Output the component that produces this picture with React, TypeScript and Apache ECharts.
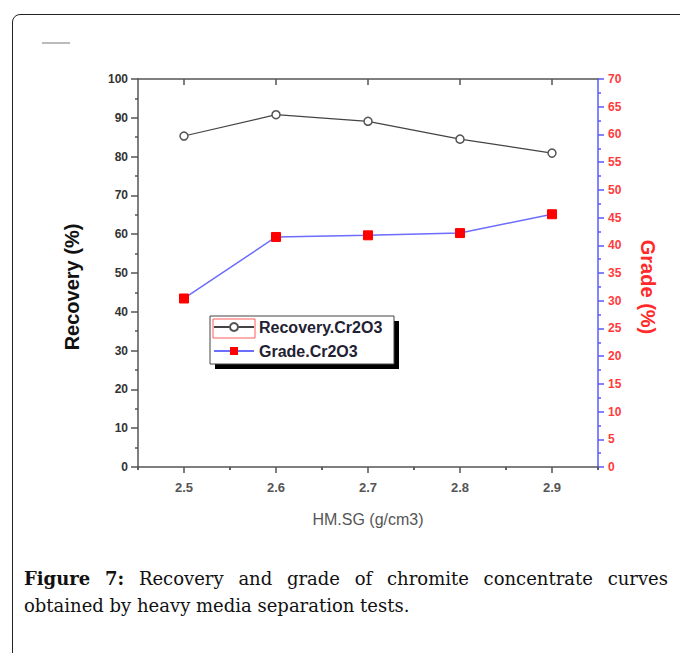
import React, { useEffect, useRef } from "react";
import * as echarts from "echarts";

const xValues = [2.5, 2.6, 2.7, 2.8, 2.9];
const recovery = [85.3, 90.8, 89.1, 84.5, 80.9];
const grade = [30.4, 41.5, 41.8, 42.2, 45.6];
const xMajorTicks = [2.5, 2.6, 2.7, 2.8, 2.9];
const xMinorTicks = [2.45, 2.55, 2.65, 2.75, 2.85, 2.95];
const seriesNames = ["Recovery.Cr2O3", "Grade.Cr2O3"];

const SANS = "'Liberation Sans', Arial, sans-serif";

export default function App() {
  const ref = useRef<HTMLDivElement>(null);
  useEffect(() => {
    document.body.style.margin = "0";
    const chart = echarts.init(ref.current!, null, { renderer: "svg" });
    const axisDark = "#555";
    const hiddenLabel = { show: false };
    const baseX = {
      type: "value",
      min: 2.45,
      max: 2.95,
      splitLine: { show: false },
    };
    chart.setOption({
      animation: false,
      backgroundColor: "transparent",
      grid: { left: 138, right: 82, top: 79, bottom: 73, containLabel: false },
      legend: {
        orient: "vertical",
        left: 213,
        top: 319,
        itemWidth: 40,
        itemHeight: 10,
        itemGap: 8,
        padding: 0,
        data: seriesNames,
        textStyle: { fontFamily: SANS, fontSize: 16, fontWeight: "bold", color: "#1f2233" },
      },
      graphic: [
        { type: "rect", z: 0, shape: { x: 215, y: 321, width: 184, height: 48 }, style: { fill: "#000" } },
        { type: "rect", z: 1, shape: { x: 210, y: 316, width: 184, height: 48 }, style: { fill: "#fff", stroke: "#444", lineWidth: 1 } },
        { type: "rect", z: 10, shape: { x: 213, y: 319, width: 42, height: 19 }, style: { fill: "none", stroke: "#ff5a5a", lineWidth: 1 } },
      ],
      xAxis: [
        {
          ...baseX,
          position: "bottom",
          name: "HM.SG (g/cm3)",
          nameLocation: "middle",
          nameGap: 44,
          nameTextStyle: { fontFamily: SANS, fontSize: 16, color: "#555" },
          axisLine: { show: true, onZero: false, lineStyle: { color: axisDark, width: 1.5 } },
          axisTick: { show: true, customValues: xMajorTicks, length: 6, inside: false, lineStyle: { color: axisDark, width: 1.5 } },
          axisLabel: {
            show: true,
            customValues: xMajorTicks,
            margin: 14,
            fontFamily: SANS,
            fontSize: 13,
            fontWeight: "bold",
            color: "#555",
            formatter: (v: number) => v.toFixed(1),
          },
        },
        {
          ...baseX,
          position: "bottom",
          axisLine: { show: false },
          axisTick: { show: true, customValues: xMinorTicks, length: 3, inside: false, lineStyle: { color: axisDark, width: 1.5 } },
          axisLabel: hiddenLabel,
        },
        {
          ...baseX,
          position: "top",
          axisLine: { show: true, onZero: false, lineStyle: { color: axisDark, width: 1.5 } },
          axisTick: { show: true, customValues: xMajorTicks, length: 6, inside: true, lineStyle: { color: axisDark, width: 1.5 } },
          axisLabel: hiddenLabel,
        },
        {
          ...baseX,
          position: "top",
          axisLine: { show: false },
          axisTick: { show: true, customValues: xMinorTicks, length: 3, inside: true, lineStyle: { color: axisDark, width: 1.5 } },
          axisLabel: hiddenLabel,
        },
      ],
      yAxis: [
        {
          type: "value",
          position: "left",
          min: 0,
          max: 100,
          interval: 10,
          name: "Recovery (%)",
          nameLocation: "middle",
          nameGap: 56,
          nameTextStyle: { fontFamily: SANS, fontSize: 20, fontWeight: "bold", color: "#111", padding: [0, 28, 0, 0] },
          splitLine: { show: false },
          axisLine: { show: true, onZero: false, lineStyle: { color: axisDark, width: 1.5 } },
          axisTick: { show: true, length: 7, lineStyle: { color: axisDark, width: 1.5 } },
          minorTick: { show: true, splitNumber: 2, length: 3, lineStyle: { color: axisDark, width: 1.5 } },
          axisLabel: { fontFamily: SANS, fontSize: 12, fontWeight: "bold", color: "#333", margin: 10 },
        },
        {
          type: "value",
          position: "right",
          min: 0,
          max: 70,
          interval: 5,
          name: "Grade (%)",
          nameLocation: "middle",
          nameRotate: -90,
          nameGap: 40,
          nameTextStyle: { fontFamily: SANS, fontSize: 20, fontWeight: "bold", color: "#ff2a2a", padding: [0, 0, 0, 28] },
          splitLine: { show: false },
          axisLine: { show: true, onZero: false, lineStyle: { color: "#5a5aff", width: 1.5 } },
          axisTick: { show: true, length: 6, lineStyle: { color: "#5a5aff", width: 1.5 } },
          minorTick: { show: true, splitNumber: 2, length: 3, lineStyle: { color: "#5a5aff", width: 1.5 } },
          axisLabel: { fontFamily: SANS, fontSize: 12, fontWeight: "bold", color: "#ff3b3b", margin: 10 },
        },
      ],
      series: [
        {
          name: seriesNames[0],
          type: "line",
          xAxisIndex: 0,
          yAxisIndex: 0,
          data: xValues.map((x, i) => [x, recovery[i]]),
          symbol: "circle",
          symbolSize: 8,
          lineStyle: { color: "#444", width: 1.2 },
          itemStyle: { color: "#fff", borderColor: "#555", borderWidth: 1.5 },
        },
        {
          name: seriesNames[1],
          type: "line",
          xAxisIndex: 0,
          yAxisIndex: 1,
          data: xValues.map((x, i) => [x, grade[i]]),
          symbol: "rect",
          symbolSize: 9,
          lineStyle: { color: "#6c6cff", width: 1.5 },
          itemStyle: { color: "#ff0000", borderColor: "#ff0000" },
        },
      ],
    });
    return () => chart.dispose();
  }, []);

  const captionStyle: React.CSSProperties = {
    position: "absolute",
    left: 24,
    width: 644,
    fontFamily: "'DejaVu Serif', 'Liberation Serif', serif",
    fontSize: 18,
    lineHeight: "27px",
    color: "#111",
    whiteSpace: "nowrap",
  };

  return (
    <div style={{ position: "absolute", left: 0, top: 0, width: 680, height: 653, overflow: "hidden", background: "#fff" }}>
      <div
        style={{
          position: "absolute",
          left: 12,
          top: 14,
          width: 720,
          height: 720,
          border: "1.5px solid #222",
          borderRadius: 8,
          boxSizing: "border-box",
        }}
      />
      <div style={{ position: "absolute", left: 42, top: 42, width: 28, height: 2, background: "#bbb" }} />
      <div ref={ref} style={{ position: "absolute", left: 0, top: 0, width: 680, height: 540 }} />
      <div style={{ ...captionStyle, top: 565, display: "flex", justifyContent: "space-between" }}>
        <b>Figure</b>
        <b>7:</b>
        <span>Recovery</span>
        <span>and</span>
        <span>grade</span>
        <span>of</span>
        <span>chromite</span>
        <span>concentrate</span>
        <span>curves</span>
      </div>
      <div style={{ ...captionStyle, top: 592 }}>obtained by heavy media separation tests.</div>
    </div>
  );
}
